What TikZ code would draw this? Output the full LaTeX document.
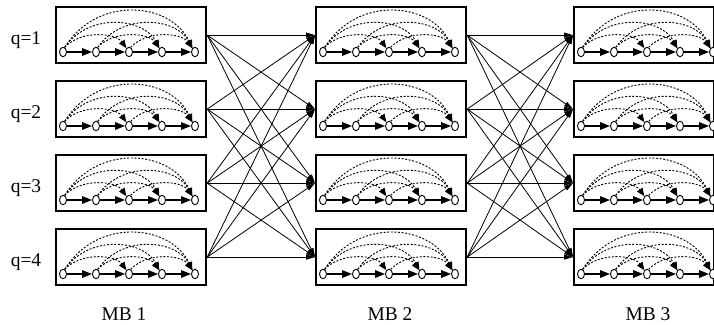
\documentclass[tikz,border=0pt]{standalone}
\usepackage{fontspec}
\setmainfont{Liberation Serif}
\usetikzlibrary{arrows.meta,shapes.geometric}
\begin{document}
\begin{tikzpicture}[x=1bp,y=-1bp,
  mbox/.style={draw,line width=2.2bp,minimum height=56bp,inner sep=0,anchor=north west},
  st/.style={draw,ellipse,line width=0.9bp,minimum width=7bp,minimum height=9.5bp,inner sep=0,fill=white},
  chainarr/.style={line width=1.6bp,-{Triangle[length=10bp,width=7.5bp]}},
  skiparr/.style={line width=0.9bp,dash pattern=on 2bp off 1.6bp,-{Triangle[length=8bp,width=6.5bp]}},
  link/.style={line width=0.8bp,-{Triangle[length=9bp,width=5bp]}},
  lab/.style={font=\fontsize{19.5}{20}\selectfont,inner sep=0,anchor=base}]
\useasboundingbox (0,0) rectangle (714,324);
\foreach \c/\lx/\w in {1/55/150,2/315/150,3/573/140} {
  \foreach \r/\ty in {1/6,2/80,3/154,4/228} {
    \node[mbox,minimum width=\w bp] (b\c\r) at (\lx,\ty) {};
    \foreach \i in {1,...,5} {
      \node[st] (s\c\r-\i) at ({\lx+8+33*(\i-1)},{\ty+46}) {};
    }
    \foreach \i [evaluate=\i as \j using int(\i+1)] in {1,...,4} {
      \draw[chainarr] (s\c\r-\i) -- (s\c\r-\j);
    }
    \foreach \i/\j in {1/3,1/4,1/5,2/4,2/5,3/5} {
      \pgfmathsetmacro{\D}{33*(\j-\i)}
      \pgfmathsetmacro{\H}{16*(\j-\i-1)}
      \draw[skiparr] (s\c\r-\i.70) .. controls +({0.25*\D},{-1.1*\H}) and +({-0.16*\D},{-0.95*\H}) .. (s\c\r-\j.125);
    }
  }
}
\foreach \a in {1,...,4} {
  \foreach \b in {1,...,4} {
    \draw[link] (b1\a.east) -- (b2\b.west);
    \draw[link] (b2\a.east) -- (b3\b.west);
  }
}
\node[lab] (q1) at (26,44) {q=1};
\node[lab] (q2) at (26,118) {q=2};
\node[lab] (q3) at (26,192) {q=3};
\node[lab] (q4) at (26,266) {q=4};
\node[lab] (mb1) at (124,320) {MB 1};
\node[lab] (mb2) at (390,320) {MB 2};
\node[lab] (mb3) at (648,320) {MB 3};
\end{tikzpicture}
\end{document}
